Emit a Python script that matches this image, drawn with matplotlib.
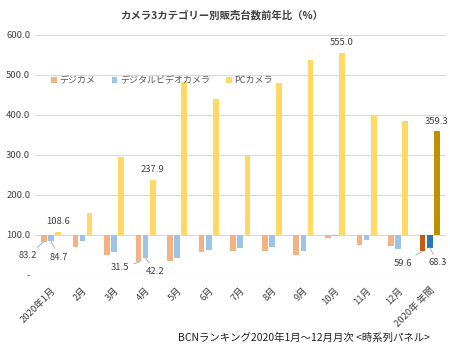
import numpy as np
import matplotlib.pyplot as plt
from matplotlib.ticker import FuncFormatter

plt.rcParams['font.family'] = ['Noto Sans CJK JP', 'DejaVu Sans']

# ---- data ----
categories = ["2020年1月", "2月", "3月", "4月", "5月", "6月", "7月",
              "8月", "9月", "10月", "11月", "12月", "2020年 年間"]
digicam = [83.2, 71, 50, 31.5, 35, 57, 61, 60, 49, 92, 75, 72, 59.6]
video = [84.7, 84, 57, 42.2, 42, 63, 68, 71, 61, 97, 88, 66, 68.3]
pccam = [108.6, 155, 295, 237.9, 482, 440, 300, 480, 537, 555.0, 400, 385, 359.3]
series_names = ["デジカメ", "デジタルビデオカメラ", "PCカメラ"]

BASE = 100.0
col_light = ["#F4B183", "#9DC3E6", "#FFD966"]
col_dark = ["#C55A11", "#2E75B6", "#BF9000"]

fig = plt.figure(figsize=(4.5, 3.49), dpi=100)
ax = fig.add_axes([0.078, 0.212, 0.912, 0.688])

x = np.arange(len(categories))
w = 0.18
step = 0.225
for k, vals in enumerate([digicam, video, pccam]):
    vals = np.array(vals)
    colors = [col_light[k]] * (len(vals) - 1) + [col_dark[k]]
    ax.bar(x + (k - 1) * step, vals - BASE, width=w, bottom=BASE,
           color=colors, label=series_names[k], zorder=2)

ax.set_ylim(0, 600)
ax.set_xlim(-0.5, 12.5)
ax.set_yticks(np.arange(0, 601, 100))
ax.yaxis.set_major_formatter(FuncFormatter(lambda v, p: "-" if v == 0 else f"{v:.1f}"))
ax.grid(axis='y', color='#d9d9d9', lw=0.8, zorder=0)
ax.axhline(BASE, color='#d9d9d9', lw=0.8, zorder=1)
for s in ax.spines.values():
    s.set_visible(False)
ax.tick_params(axis='both', length=0, labelsize=6.8, colors='#404040')
ax.tick_params(axis='x', pad=8)
ax.set_xticks(x)
ax.set_xticklabels(categories, rotation=45, ha='right', rotation_mode='anchor')

# labels above
lab_kw = dict(fontsize=6.8, color='#404040', ha='center', va='bottom')
for i in [0, 3, 9, 12]:
    ax.annotate(f"{pccam[i]:.1f}", (x[i] + step, pccam[i]),
                xytext=(0, 4), textcoords='offset points', **lab_kw)

# labels below with leader lines
line_kw = dict(arrowstyle='-', color='#a6a6a6', lw=0.6, shrinkA=1, shrinkB=0)
for i, k, off in [(0, 0, (-11.5, -10)), (0, 1, (6, -11.5)),
                  (3, 0, (-13, -3.6)), (3, 1, (7, -9.4)),
                  (12, 0, (-14.4, -8.6)), (12, 1, (6, -11))]:
    vals = [digicam, video][k]
    ax.annotate(f"{vals[i]:.1f}", (x[i] + (k - 1) * step, vals[i]),
                xytext=off, textcoords='offset points', fontsize=6.8,
                color='#404040', ha='center', va='center',
                arrowprops=line_kw)

ax.legend(loc='center left', bbox_to_anchor=(0.02, 0.81), ncol=3, frameon=False,
          fontsize=6.5, handlelength=0.6, handleheight=0.6, columnspacing=1.8,
          handletextpad=0.3, labelcolor='#595959')

fig.text(0.493, 0.957, "カメラ3カテゴリー別販売台数前年比（%）", ha='center',
         va='center', fontsize=7.5, fontweight='bold', color='#404040')
fig.text(0.955, 0.032, "BCNランキング2020年1月～12月月次 <時系列パネル>",
         ha='right', va='center', fontsize=7.5, color='#202020')

fig.savefig("out.png", dpi=100)
